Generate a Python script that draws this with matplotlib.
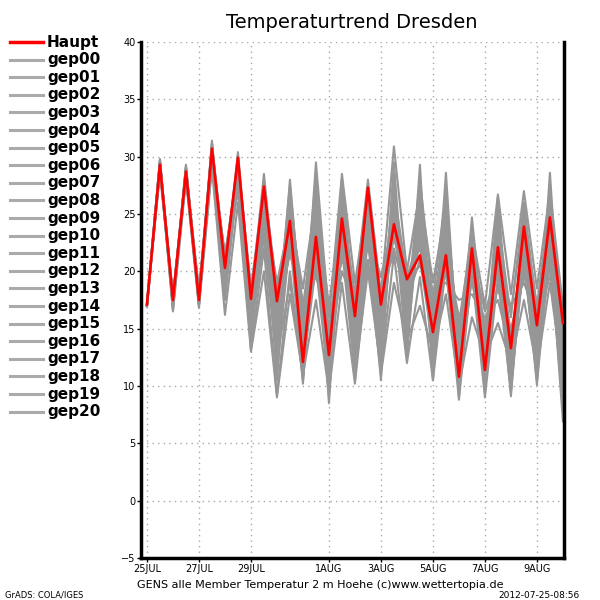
import numpy as np
import pandas as pd
import matplotlib
matplotlib.use("Agg")
import matplotlib.pyplot as plt
from matplotlib.lines import Line2D

# 12-hourly forecast steps from 25 Jul 2012 00Z
times = pd.date_range("2012-07-25 00:00", periods=33, freq="12h")

haupt = [17.1, 29.3, 17.5, 28.7, 17.5, 30.7, 20.3, 29.9, 17.6, 27.4,
         17.4, 24.4, 12.1, 23.0, 12.7, 24.6, 16.1, 27.3, 17.1, 24.1,
         19.3, 21.4, 14.7, 21.4, 10.8, 22.0, 11.4, 22.1, 13.3, 23.9,
         15.3, 24.7, 15.5]

gep00 = [17.0, 29.5, 17.2, 28.9, 17.3, 30.9, 19.8, 29.2, 16.5, 26.5, 16.0, 25.2, 13.5, 24.0, 12.0, 23.5, 15.0,
         26.0, 14.5, 25.5, 15.5, 24.0, 13.0, 22.5, 12.5, 21.0, 13.0, 23.0, 12.0, 22.0, 14.0, 24.5, 13.0]
gep01 = [17.1, 29.0, 17.8, 28.5, 17.9, 30.3, 20.8, 28.5, 15.5, 25.0, 13.5, 22.5, 15.5, 21.0, 14.5, 22.0, 17.5,
         24.0, 16.0, 27.0, 17.0, 26.0, 15.0, 20.0, 11.0, 19.5, 12.5, 21.5, 11.5, 24.5, 12.0, 22.0, 11.0]
gep02 = [17.2, 29.7, 16.8, 29.1, 17.0, 31.2, 18.5, 30.0, 14.0, 28.0, 12.0, 27.0, 11.5, 26.0, 10.5, 27.0, 14.0,
         25.5, 16.5, 23.0, 18.0, 22.5, 17.0, 23.5, 14.5, 22.0, 15.0, 20.0, 13.5, 23.5, 16.0, 25.0, 16.5]
gep03 = [16.9, 28.8, 17.5, 28.2, 18.2, 29.8, 21.2, 27.5, 17.0, 24.5, 16.5, 21.5, 17.5, 19.5, 16.0, 21.0, 18.5,
         22.0, 18.5, 21.5, 19.0, 20.5, 18.5, 19.0, 17.5, 18.0, 16.0, 17.5, 13.0, 20.0, 14.0, 21.0, 12.5]
gep04 = [17.1, 29.4, 17.4, 28.6, 17.6, 30.6, 20.5, 29.8, 18.0, 27.5, 18.5, 24.0, 15.0, 28.5, 13.5, 26.5, 12.0,
         27.5, 13.0, 29.5, 14.0, 28.0, 12.0, 26.5, 10.0, 23.5, 11.0, 25.5, 10.5, 26.0, 12.5, 27.5, 10.0]
gep05 = [17.0, 29.2, 16.6, 28.4, 17.2, 29.5, 17.5, 28.0, 13.2, 22.0, 9.2, 20.0, 10.5, 23.5, 9.0, 25.0, 11.5,
         24.0, 12.0, 26.0, 13.5, 25.0, 11.5, 27.5, 9.5, 22.5, 9.5, 24.0, 9.5, 25.5, 10.5, 26.5, 9.5]
gep06 = [17.2, 29.6, 17.6, 29.0, 17.4, 31.0, 20.0, 30.4, 17.5, 28.5, 17.0, 25.5, 12.5, 22.0, 11.5, 24.0, 14.5,
         26.5, 15.5, 25.0, 12.5, 27.0, 14.0, 24.5, 13.5, 20.5, 12.0, 22.5, 14.5, 21.0, 15.5, 23.5, 14.0]
gep07 = [17.1, 29.1, 17.9, 28.8, 18.4, 30.1, 21.4, 29.0, 18.5, 26.0, 19.0, 24.5, 16.5, 21.5, 14.0, 23.0, 16.0,
         21.0, 19.5, 24.5, 19.5, 22.0, 16.5, 21.5, 15.5, 23.0, 14.5, 18.5, 15.0, 19.5, 17.5, 20.5, 15.0]
gep08 = [17.0, 29.8, 17.0, 29.3, 17.1, 31.4, 19.0, 30.2, 15.0, 27.0, 10.5, 26.0, 10.5, 27.5, 12.0, 25.5, 10.5,
         23.0, 10.5, 28.5, 13.0, 29.3, 10.5, 25.0, 9.0, 24.0, 12.5, 26.5, 12.5, 24.0, 11.0, 25.5, 8.5]
gep09 = [17.1, 28.6, 17.3, 28.1, 17.8, 29.2, 20.2, 27.0, 16.0, 23.5, 14.0, 28.0, 14.5, 24.5, 13.0, 20.0, 17.0,
         20.5, 17.5, 22.0, 17.5, 21.0, 13.5, 23.0, 12.0, 21.5, 10.5, 22.0, 11.0, 22.5, 13.5, 24.0, 12.0]
gep10 = [17.0, 29.3, 17.7, 28.7, 17.9, 30.8, 20.7, 29.5, 14.5, 25.5, 11.0, 23.0, 10.2, 25.5, 8.5, 27.0, 13.5,
         25.0, 14.0, 27.5, 15.5, 23.5, 12.5, 28.6, 11.0, 24.7, 13.5, 21.0, 9.1, 23.0, 12.0, 28.6, 11.5]
gep11 = [17.2, 29.5, 16.9, 28.9, 17.5, 30.4, 18.0, 28.8, 15.0, 24.0, 15.0, 26.0, 13.0, 29.5, 16.0, 28.5, 19.0,
         26.5, 16.5, 24.0, 16.0, 25.5, 13.5, 22.0, 16.0, 19.0, 15.5, 20.5, 16.5, 25.0, 17.0, 26.0, 14.5]
gep12 = [17.1, 29.0, 17.2, 28.3, 17.3, 29.9, 19.5, 28.0, 15.5, 24.5, 12.5, 19.0, 11.5, 20.5, 10.0, 22.0, 11.0,
         20.0, 11.5, 21.5, 12.0, 19.5, 10.5, 20.5, 8.8, 20.0, 9.0, 19.5, 9.5, 21.5, 10.1, 22.5, 6.9]
gep13 = [17.0, 29.6, 17.5, 29.2, 18.0, 31.1, 20.9, 29.7, 18.5, 27.5, 17.5, 25.0, 18.5, 26.5, 17.0, 25.5, 18.0,
         28.0, 18.0, 30.9, 20.0, 27.0, 19.0, 25.5, 14.0, 23.5, 17.0, 26.7, 18.0, 27.0, 18.5, 27.0, 17.0]
gep14 = [17.1, 29.2, 16.5, 28.0, 16.8, 29.0, 16.2, 26.0, 13.0, 20.0, 9.0, 18.0, 11.0, 17.5, 9.5, 19.0, 10.2,
         21.0, 11.0, 19.0, 14.0, 17.0, 13.0, 18.0, 10.0, 16.0, 12.5, 15.5, 12.0, 17.5, 11.5, 19.0, 10.5]
gep15 = [17.2, 29.4, 17.8, 28.6, 18.1, 30.5, 21.0, 29.3, 17.0, 26.0, 15.5, 27.5, 15.5, 23.5, 11.0, 26.0, 15.5,
         24.5, 17.0, 26.5, 18.5, 24.0, 15.5, 26.0, 13.0, 22.5, 14.0, 24.5, 16.0, 26.0, 16.5, 24.5, 13.5]
gep16 = [17.0, 29.7, 17.1, 29.0, 17.6, 30.7, 19.3, 30.0, 16.0, 28.0, 14.5, 22.0, 16.0, 27.0, 12.5, 28.0, 16.5,
         27.0, 13.0, 28.0, 14.5, 25.5, 12.0, 21.0, 10.5, 19.5, 11.5, 23.5, 14.0, 20.0, 13.0, 21.5, 8.0]
gep17 = [17.1, 28.9, 17.6, 28.4, 18.3, 29.6, 21.5, 28.3, 17.5, 25.0, 18.5, 23.5, 14.5, 20.0, 13.5, 21.5, 19.0,
         23.5, 19.5, 23.0, 18.5, 22.5, 19.5, 20.5, 15.0, 21.5, 16.5, 20.0, 17.0, 19.0, 16.0, 19.5, 16.0]
gep18 = [17.0, 29.1, 17.3, 28.5, 17.0, 30.2, 18.8, 28.5, 14.0, 26.5, 13.0, 24.5, 12.0, 22.5, 12.0, 24.5, 12.5,
         26.5, 15.0, 25.5, 16.5, 28.0, 17.5, 27.0, 12.0, 23.0, 10.0, 22.5, 10.0, 21.0, 10.5, 23.0, 12.0]
gep19 = [17.2, 29.3, 17.4, 28.8, 17.7, 30.9, 20.4, 29.1, 16.5, 27.0, 16.0, 26.5, 17.0, 25.0, 15.0, 22.5, 13.0,
         25.0, 17.0, 27.0, 19.5, 23.0, 14.0, 24.0, 14.5, 24.0, 12.0, 25.0, 13.0, 24.5, 14.5, 25.5, 15.5]
gep20 = [17.1, 29.5, 17.0, 28.7, 17.2, 30.0, 19.0, 28.9, 14.5, 23.0, 12.0, 24.0, 14.0, 24.5, 16.5, 26.0, 17.0,
         22.5, 14.5, 24.0, 16.0, 26.5, 16.0, 22.0, 13.0, 21.0, 12.0, 19.0, 11.5, 22.0, 12.5, 20.5, 9.5]

members = [gep00, gep01, gep02, gep03, gep04, gep05, gep06, gep07, gep08, gep09, gep10,
           gep11, gep12, gep13, gep14, gep15, gep16, gep17, gep18, gep19, gep20]
member_names = ["gep%02d" % i for i in range(len(members))]

tick_dates = ["2012-07-25", "2012-07-27", "2012-07-29", "2012-08-01",
              "2012-08-03", "2012-08-05", "2012-08-07", "2012-08-09"]
tick_labels = ["25JUL", "27JUL", "29JUL", "1AUG", "3AUG", "5AUG", "7AUG", "9AUG"]

GRAY = "#969696"
RED = "#ff0000"

fig = plt.figure(figsize=(6, 6), dpi=100)
ax = fig.add_axes([141/600, 42/600, (564-141)/600, (558-42)/600])

for m in members:
    ax.plot(times, m, color=GRAY, lw=1.5)
ax.plot(times, haupt, color=RED, lw=1.9, zorder=5)

ax.set_ylim(-5, 40)
ax.set_yticks(np.arange(-5, 41, 5))
ax.set_yticklabels(["\u22125"] + [str(v) for v in range(0, 41, 5)])
x0 = pd.Timestamp("2012-07-25 00:00")
ax.set_xlim(x0 - pd.Timedelta(hours=5.5), x0 + pd.Timedelta(hours=385))
ax.set_xticks(pd.to_datetime(tick_dates))
ax.set_xticklabels(tick_labels)
ax.tick_params(axis="both", labelsize=7, length=3, width=1, direction="out", pad=1)
ax.grid(True, color="#a8a8a8", linestyle=(0, (1, 3)), lw=1)
ax.spines["top"].set_visible(False)
for s in ["left", "right", "bottom"]:
    ax.spines[s].set_linewidth(2.5)
    ax.spines[s].set_color("black")

fig.text(352/600, 1 - 22/600, "Temperaturtrend Dresden", ha="center", va="center",
         fontsize=14)
fig.text(320/600, 1 - 585/600, "GENS alle Member Temperatur 2 m Hoehe (c)www.wettertopia.de",
         ha="center", va="center", fontsize=8)
fig.text(5/600, 1 - 595/600, "GrADS: COLA/IGES", ha="left", va="center", fontsize=6)
fig.text(580/600, 1 - 595/600, "2012-07-25-08:56", ha="right", va="center", fontsize=6.5)

# legend column on the left
labels = ["Haupt"] + member_names
colors = [RED] + ["#aaaaaa"] * len(members)
for i, (lab, c) in enumerate(zip(labels, colors)):
    y = 1 - (42 + i * 17.6) / 600
    fig.add_artist(Line2D([10/600, 43/600], [y, y], color=c, lw=2.5 if i == 0 else 2.2))
    fig.text(47/600, y, lab, ha="left", va="center", fontsize=11, fontweight="bold")

fig.savefig("out.png", dpi=100)
